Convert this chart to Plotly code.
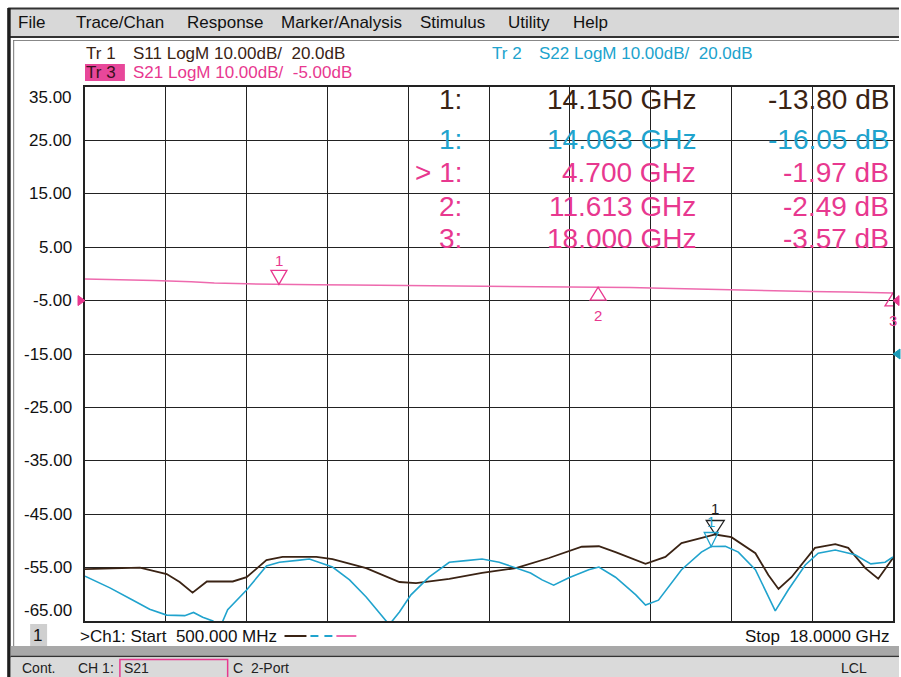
import plotly.graph_objects as go

# ---------------- data ----------------
FREQ_START = 0.5   # GHz
FREQ_STOP = 18.0   # GHz

# S21 (Tr 3), scale 10 dB/div, ref -5 dB
s21_freq = [0.5, 1.2, 2.0, 2.8, 3.3, 4.0, 4.7, 5.5, 6.3, 7.0, 7.8, 8.6, 9.4, 10.2,
            11.0, 11.613, 12.3, 13.0, 13.8, 14.6, 15.4, 16.2, 17.0, 17.6, 18.0]
s21_db = [-0.96, -1.05, -1.25, -1.45, -1.72, -1.85, -1.97, -2.02, -2.08, -2.13, -2.22,
          -2.30, -2.38, -2.40, -2.45, -2.49, -2.55, -2.70, -2.88, -3.05, -3.15, -3.28,
          -3.40, -3.50, -3.57]

# S11 (Tr 1), scale 10 dB/div, ref 20 dB
s11_freq = [0.5, 1.69, 2.27, 2.55, 2.83, 3.14, 3.70, 4.0, 4.43, 4.78, 5.51, 5.86, 6.59,
            7.31, 7.67, 8.39, 9.10, 9.83, 10.55, 11.26, 11.63, 11.99, 12.64, 13.07,
            13.42, 14.07, 14.15, 14.5, 15.02, 15.30, 15.52, 15.80, 16.31, 16.75, 17.03,
            17.40, 17.68, 18.0]
s11_db = [-20.3, -20.0, -21.2, -22.7, -24.7, -22.6, -22.6, -21.8, -18.6, -18.0, -18.0,
          -18.4, -20.1, -22.7, -22.9, -22.1, -21.0, -20.1, -18.2, -16.1, -16.0, -17.1,
          -19.3, -18.0, -15.4, -13.85, -13.80, -14.3, -17.3, -21.4, -24.0, -21.8, -16.3,
          -15.6, -16.3, -20.1, -22.1, -18.2]

# S22 (Tr 2), scale 10 dB/div, ref 20 dB
s22_freq = [0.5, 1.04, 1.54, 1.90, 2.27, 2.66, 2.85, 3.05, 3.27, 3.42, 3.59, 4.0, 4.43,
            4.71, 5.15, 5.36, 5.86, 6.23, 6.59, 6.87, 7.09, 7.31, 7.56, 7.95, 8.39,
            8.75, 9.10, 9.47, 9.83, 10.15, 10.40, 10.65, 10.98, 11.20, 11.41, 11.63,
            11.99, 12.43, 12.64, 12.92, 13.42, 13.85, 14.063, 14.37, 14.65, 15.02, 15.36,
            15.45, 15.73, 16.10, 16.38, 16.75, 17.18, 17.52, 17.83, 18.0]
s22_db = [-21.6, -23.8, -26.1, -27.8, -28.9, -29.0, -28.4, -29.3, -30.0, -31.3, -27.9,
          -24.2, -19.7, -19.0, -18.6, -18.4, -19.9, -22.3, -25.5, -28.3, -30.7, -28.3,
          -25.1, -21.8, -19.0, -18.7, -18.4, -19.0, -20.1, -21.0, -22.3, -23.3, -21.9,
          -21.2, -20.4, -19.9, -21.8, -25.1, -27.0, -26.1, -20.4, -17.1, -16.05, -16.0,
          -17.1, -20.4, -26.6, -28.1, -24.2, -19.5, -17.3, -16.7, -17.6, -19.3, -19.0,
          -18.0]

# markers
s11_mk_freq = [14.150]
s11_mk_db = [-13.80]
s22_mk_freq = [14.063]
s22_mk_db = [-16.05]
s21_mk_freq = [4.700, 11.613, 18.000]
s21_mk_db = [-1.97, -2.49, -3.57]

# axis ticks (Tr 3 scale shown on grid)
y_ticks = [35, 25, 15, 5, -5, -15, -25, -35, -45, -55, -65]
Y1_RANGE = [-65, 35]      # S21: ref -5 dB at 4 div from top
Y2_RANGE = [-30, 70]      # S11/S22: ref 20 dB at 5 div from top
S21_REF = -5.0
S22_REF = 20.0

menu_items = ["File", "Trace/Chan", "Response", "Marker/Analysis", "Stimulus", "Utility", "Help"]

# ---------------- styling ----------------
W, H = 901, 677
ML, MR, MT, MB = 85, 6, 87, 56
FONT = "Liberation Sans, Arial, sans-serif"
BROWN = "#3a2314"
CYAN = "#20a3cd"
PINK_TXT = "#e8388f"
PINK_LINE = "#ee6aae"


def px(x):
    return (x - ML) / (W - ML - MR)


def py(y):
    return (H - MB - y) / (H - MT - MB)


fig = go.Figure()
fig.add_trace(go.Scatter(x=s11_freq, y=s11_db, mode="lines", yaxis="y2",
                         line=dict(color=BROWN, width=1.8), name="S11"))
fig.add_trace(go.Scatter(x=s22_freq, y=s22_db, mode="lines", yaxis="y2",
                         line=dict(color=CYAN, width=1.6), name="S22"))
fig.add_trace(go.Scatter(x=s21_freq, y=s21_db, mode="lines", yaxis="y",
                         line=dict(color=PINK_LINE, width=1.5), name="S21"))

shapes = []
ann = []


def rect(x0, y0, x1, y1, fill=None, line=None, lw=0):
    shapes.append(dict(type="rect", xref="paper", yref="paper",
                       x0=px(x0), x1=px(x1), y0=py(y1), y1=py(y0),
                       fillcolor=fill if fill else "rgba(0,0,0,0)",
                       line=dict(color=line if line else "rgba(0,0,0,0)", width=lw),
                       layer="above"))


def hline(x0, x1, y, color, w):
    shapes.append(dict(type="line", xref="paper", yref="paper",
                       x0=px(x0), x1=px(x1), y0=py(y), y1=py(y),
                       line=dict(color=color, width=w), layer="above"))


def vline(x, y0, y1, color, w):
    shapes.append(dict(type="line", xref="paper", yref="paper",
                       x0=px(x), x1=px(x), y0=py(y0), y1=py(y1),
                       line=dict(color=color, width=w), layer="above"))


def text(x, y, s, size, color="#111", xanchor="left", weight=None):
    f = dict(family=FONT, size=size, color=color)
    if weight:
        f["weight"] = weight
    ann.append(dict(xref="paper", yref="paper", x=px(x), y=py(y), text=s,
                    showarrow=False, xanchor=xanchor, yanchor="middle", font=f))


# window chrome
rect(8, 8, 901, 37, fill="#d8d8d8")
hline(8, 901, 8.5, "#333", 2)
hline(8, 901, 37, "#333", 2)
hline(13, 901, 40.5, "#888", 1)
rect(7, 8, 10.5, 677, fill="#1e1e1e")
vline(13.5, 40, 647, "#777", 1)
rect(10.5, 646, 901, 656, fill="#a8a8a8")
hline(10.5, 901, 656.5, "#333", 1.5)
rect(10.5, 657.5, 901, 677, fill="#dadada")

# menu
menu_x = [16, 74, 185, 279, 419, 507, 572]
for mx, item in zip(menu_x, menu_items):
    text(mx, 22, item, 17, "#111")

# trace titles
text(84, 54, "Tr 1", 17, BROWN)
text(131, 54, "S11 LogM 10.00dB/  20.0dB", 17, BROWN)
rect(85, 64, 125, 81, fill="#e8479a")
text(84, 73, "Tr 3", 17, "#3a1020")
text(131, 73, "S21 LogM 10.00dB/  -5.00dB", 17, PINK_TXT)
text(491, 54, "Tr 2", 17, CYAN)
text(538, 54, "S22 LogM 10.00dB/  20.0dB", 17, CYAN)

# marker readout table
rows_y = [100, 139, 173, 206, 238]
row_labels = ["1:", "1:", "> 1:", "2:", "3:"]
row_f = s11_mk_freq + s22_mk_freq + s21_mk_freq
row_v = s11_mk_db + s22_mk_db + s21_mk_db
row_c = [BROWN, CYAN, PINK_TXT, PINK_TXT, PINK_TXT]
for ry, lab, f, v, c in zip(rows_y, row_labels, row_f, row_v, row_c):
    text(465, ry, lab, 28, c, "right")
    text(700, ry, f"{f:.3f} GHz", 28, c, "right")
    text(893, ry, f"{v:.2f} dB", 28, c, "right")

# y tick labels via annotations on the y axis
for v in y_ticks:
    shift = 0
    if v == y_ticks[0]:
        shift = -10
    elif v == y_ticks[-1]:
        shift = 11
    ann.append(dict(xref="paper", yref="y", x=px(74), y=v, yshift=shift,
                    text=f"{v:.2f}", showarrow=False, xanchor="right", yanchor="middle",
                    font=dict(family=FONT, size=17, color="#111")))

# reference level arrows
shapes.append(dict(type="path", xref="paper", yref="y", xsizemode="pixel", ysizemode="pixel",
                   xanchor=0, yanchor=S21_REF, path="M -7 5 L -7 -5 L 0 0 Z",
                   fillcolor=PINK_TXT, line=dict(color=PINK_TXT, width=1)))
shapes.append(dict(type="path", xref="paper", yref="y", xsizemode="pixel", ysizemode="pixel",
                   xanchor=1, yanchor=S21_REF, path="M 6 5 L 6 -5 L 0 0 Z",
                   fillcolor=PINK_TXT, line=dict(color=PINK_TXT, width=1)))
shapes.append(dict(type="path", xref="paper", yref="y2", xsizemode="pixel", ysizemode="pixel",
                   xanchor=1, yanchor=S22_REF, path="M 7 5 L 7 -5 L 0 0 Z",
                   fillcolor="#1a9ab8", line=dict(color="#1a9ab8", width=1)))


def marker_shape(f, v, yref, color, down=True, hw=8, h=14):
    if down:
        path = f"M {-hw} {h} L {hw} {h} L 0 0 Z"
    else:
        path = f"M {-hw} {-h} L {hw} {-h} L 0 0 Z"
    shapes.append(dict(type="path", xref="x", yref=yref, xsizemode="pixel", ysizemode="pixel",
                       xanchor=f, yanchor=v, path=path,
                       line=dict(color=color, width=1.3), fillcolor="rgba(0,0,0,0)"))


def marker_label(f, v, yref, s, color, shift):
    ann.append(dict(xref="x", yref=yref, x=f, y=v, yshift=shift, text=s, showarrow=False,
                    xanchor="center", yanchor="middle",
                    font=dict(family=FONT, size=15, color=color)))


# S11 & S22 markers
marker_shape(s11_mk_freq[0], s11_mk_db[0], "y2", "#222", True, 9, 14)
marker_label(s11_mk_freq[0], s11_mk_db[0], "y2", "1", "#222", 26)
marker_shape(s22_mk_freq[0], s22_mk_db[0], "y2", CYAN, True, 7, 14)
marker_label(s22_mk_freq[0], s22_mk_db[0], "y2", "1", CYAN, 25)
# S21 markers
for i, (f, v) in enumerate(zip(s21_mk_freq, s21_mk_db)):
    if i == 0:
        marker_shape(f, v, "y", PINK_TXT, True, 8, 14)
        marker_label(f, v, "y", str(i + 1), PINK_TXT, 24)
    else:
        marker_shape(f, v, "y", PINK_TXT, False, 8, 13)
        marker_label(f, v, "y", str(i + 1), PINK_TXT, -28)

# bottom annotation line
rect(30, 624, 47, 646, fill="#cfcfcf")
text(31, 635, "1", 17, "#111")
text(78, 636, "&gt;Ch1: Start  500.000 MHz", 17, "#111")
hline(285, 307, 636, BROWN, 2)
hline(311, 319, 636, CYAN, 2)
hline(325, 333, 636, CYAN, 2)
hline(337, 357, 636, PINK_LINE, 2)
text(894, 636, "Stop  18.0000 GHz", 17, "#111", "right")

# status bar
text(20, 668, "Cont.", 14, "#222")
text(76, 668, "CH 1:", 14, "#222")
rect(120, 659.5, 228, 678, line=PINK_TXT, lw=1.5)
text(122, 668, "S21", 14, "#222")
text(231, 668, "C  2-Port", 14, "#222")
text(856, 668, "LCL", 14, "#222", "center")

fig.update_layout(
    width=W, height=H,
    margin=dict(l=ML, r=MR, t=MT, b=MB, pad=0),
    paper_bgcolor="white", plot_bgcolor="white",
    showlegend=False,
    xaxis=dict(range=[FREQ_START, FREQ_STOP], tick0=FREQ_START,
               dtick=(FREQ_STOP - FREQ_START) / 10, showticklabels=False,
               ticks="", showgrid=True, gridcolor="#222", gridwidth=1.2,
               zeroline=False, showline=True, linecolor="#222", linewidth=1.5, mirror=True),
    yaxis=dict(range=Y1_RANGE, tick0=-65, dtick=10, showticklabels=False, ticks="",
               showgrid=True, gridcolor="#222", gridwidth=1.2, zeroline=False,
               showline=True, linecolor="#222", linewidth=1.5, mirror=True),
    yaxis2=dict(range=Y2_RANGE, overlaying="y", visible=False, showgrid=False,
                zeroline=False),
    shapes=shapes,
    annotations=ann,
)

fig.write_html("out.html", config={"displayModeBar": False},
               post_script="document.body.style.margin='0px';document.body.style.overflow='hidden';")
